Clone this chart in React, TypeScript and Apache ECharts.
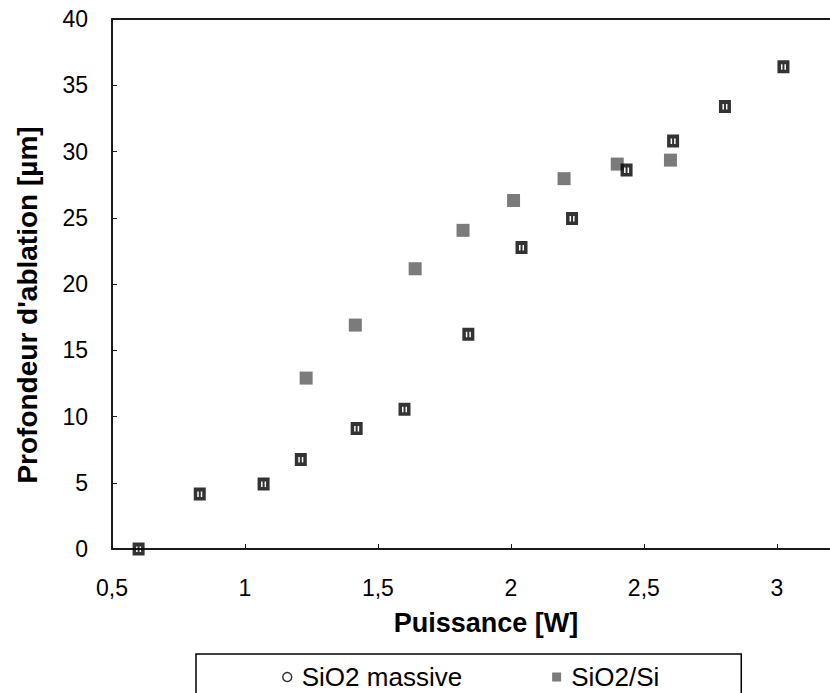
import React, { useEffect, useRef } from "react";
import * as echarts from "echarts";

const massiveX = [0.6, 0.83, 1.07, 1.21, 1.42, 1.6, 1.84, 2.04, 2.23, 2.435, 2.61, 2.805, 3.025];
const massiveY = [0, 4.15, 4.9, 6.75, 9.1, 10.55, 16.2, 22.75, 24.95, 28.6, 30.8, 33.4, 36.4];
const siSiX = [1.23, 1.415, 1.64, 1.82, 2.01, 2.2, 2.4, 2.6];
const siSiY = [12.9, 16.9, 21.15, 24.05, 26.3, 27.95, 29.05, 29.35];
const seriesNames = ["SiO2 massive", "SiO2/Si"];
const xTitle = "Puissance [W]";
const yTitle = "Profondeur d'ablation [µm]";

const FONT = "'Liberation Sans', Arial, sans-serif";
const massiveSymbol = "path://M0 0H12V13H0Z M3.5 4V9.5H5V4Z M7 4V9.5H8.5V4Z";

export default function App() {
  const ref = useRef<HTMLDivElement>(null);
  useEffect(() => {
    if (!ref.current) return;
    const chart = echarts.init(ref.current, undefined, { renderer: "svg" });
    const fmt = (v: number) => String(v).replace(".", ",");
    const axisLine = { show: true, lineStyle: { color: "#1a1a1a", width: 2 } };
    chart.setOption({
      animation: false,
      backgroundColor: "#ffffff",
      grid: { left: 112, top: 19, right: 0, bottom: 144, outerBoundsMode: "none", containLabel: false },
      legend: {
        data: [
          { name: seriesNames[0], icon: "circle", itemStyle: { color: "#ffffff", borderColor: "#000", borderWidth: 1.5 } },
          { name: seriesNames[1], icon: "rect", itemStyle: { color: "#5a5a5a" } },
        ],
        left: 196,
        top: 654,
        orient: "horizontal",
        itemWidth: 9,
        itemHeight: 9,
        itemGap: 90,
        padding: [10, 82, 30, 86],
        borderColor: "#000",
        borderWidth: 1.5,
        textStyle: { fontFamily: FONT, fontSize: 26, color: "#000", padding: [0, 0, 0, 5] },
      },
      xAxis: [
        {
          type: "value",
          min: 0.5,
          max: 3.2,
          interval: 0.5,
          name: xTitle,
          nameLocation: "middle",
          nameGap: 60,
          nameTextStyle: { fontFamily: FONT, fontSize: 27, fontWeight: "bold", color: "#000", padding: [0, 0, 0, 30] },
          axisLine,
          axisTick: { show: true, inside: true, length: 5, lineStyle: { color: "#1a1a1a", width: 1 } },
          axisLabel: { fontFamily: FONT, fontSize: 23, color: "#000", margin: 27, formatter: fmt, showMaxLabel: false },
          splitLine: { show: false },
        },
        {
          type: "value",
          position: "top",
          min: 0.5,
          max: 3.2,
          axisLine,
          axisTick: { show: false },
          axisLabel: { show: false },
          splitLine: { show: false },
        },
      ],
      yAxis: {
        type: "value",
        min: 0,
        max: 40,
        interval: 5,
        name: yTitle,
        nameLocation: "middle",
        nameGap: 71,
        nameTextStyle: { fontFamily: FONT, fontSize: 28, fontWeight: "bold", color: "#000", padding: [0, 42, 0, 0] },
        axisLine,
        axisTick: { show: true, inside: true, length: 5, lineStyle: { color: "#1a1a1a", width: 1 } },
        axisLabel: { fontFamily: FONT, fontSize: 23, color: "#000", margin: 24 },
        splitLine: { show: false },
      },
      series: [
        {
          name: seriesNames[1],
          type: "scatter",
          clip: false,
          symbol: "rect",
          symbolSize: 13,
          itemStyle: { color: "#5a5a5a" },
          data: siSiX.map((x, i) => [x, siSiY[i]]),
          z: 2,
        },
        {
          name: seriesNames[0],
          type: "scatter",
          clip: false,
          symbol: massiveSymbol,
          symbolSize: [12, 13],
          itemStyle: { color: "#000" },
          data: massiveX.map((x, i) => [x, massiveY[i]]),
          z: 3,
        },
      ],
    });
    return () => chart.dispose();
  }, []);
  return <div ref={ref} style={{ width: 830, height: 693, position: "absolute", left: 0, top: 0 }} />;
}
